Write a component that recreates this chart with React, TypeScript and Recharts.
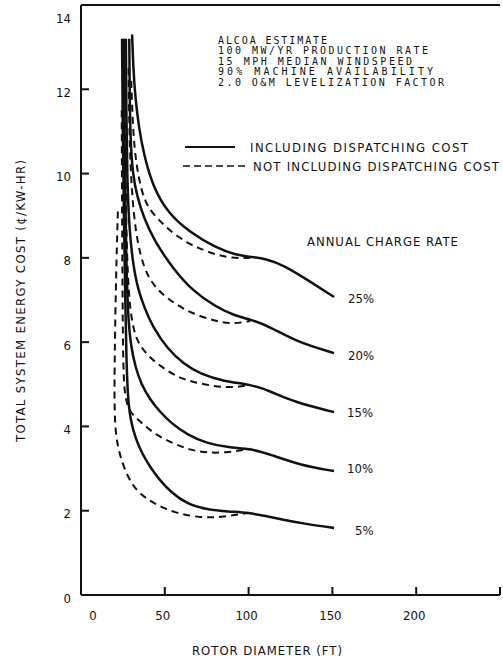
import React from 'react';
import { LineChart, Line, XAxis, YAxis, ReferenceLine } from 'recharts';

// ---- data (rotor diameter ft, cost ¢/kWh) ----
const X_TICKS = [0, 50, 100, 150, 200, 250];
const Y_TICKS = [0, 2, 4, 6, 8, 10, 12, 14];
const RATES = ['25%', '20%', '15%', '10%', '5%'];

// including dispatching cost (solid)
const incl25: [number, number][] = [[30.5, 13.3], [31.2, 12.5], [32.4, 11.8], [34.5, 11.1], [37.5, 10.45], [42.8, 9.7], [51.8, 9.06], [65.5, 8.59], [80, 8.25], [92, 8.07], [102, 8.02], [110, 7.98], [121, 7.83], [137, 7.43], [151, 7.07]];
const incl20: [number, number][] = [[28.8, 13.2], [29.0, 12.0], [29.5, 10.8], [30.8, 10.0], [33.5, 9.45], [37.5, 8.95], [43.5, 8.42], [55.3, 7.72], [67.2, 7.2], [80, 6.85], [92, 6.62], [102, 6.53], [113, 6.36], [129, 6.0], [151, 5.74]];
const incl15: [number, number][] = [[26.8, 13.2], [27.0, 11.5], [27.6, 9.8], [28.8, 8.7], [31, 7.85], [34, 7.25], [38, 6.8], [42.8, 6.36], [51.8, 5.83], [61.3, 5.48], [71.4, 5.24], [85, 5.07], [102, 4.99], [112, 4.85], [127, 4.58], [151, 4.34]];
const incl10: [number, number][] = [[25.5, 13.2], [25.8, 11.5], [26.3, 9.8], [27.0, 8.0], [28.0, 6.6], [29.8, 5.9], [32.5, 5.4], [36, 5.0], [41, 4.65], [47, 4.35], [54, 4.07], [63.5, 3.8], [75, 3.6], [88, 3.5], [102, 3.47], [113, 3.33], [131, 3.08], [151, 2.94]];
const incl05: [number, number][] = [[24.5, 13.2], [24.9, 11], [25.6, 9], [26.4, 7], [27.1, 5.6], [27.9, 4.7], [29.5, 4.15], [32.5, 3.72], [36.5, 3.35], [41.5, 3.02], [46.5, 2.75], [53.5, 2.44], [63.6, 2.15], [75, 2.03], [88, 1.98], [100, 1.95], [110, 1.88], [121, 1.78], [135, 1.68], [151, 1.59]];

// not including dispatching cost (dashed)
const excl25: [number, number][] = [[30.0, 12.2], [31.0, 11.0], [33.0, 10.2], [36, 9.6], [39.9, 9.18], [47.6, 8.85], [54.7, 8.59], [63.7, 8.35], [70.2, 8.23], [80, 8.08], [90, 7.99], [101, 8.0]];
const excl20: [number, number][] = [[28.4, 12.5], [28.7, 11.3], [29.6, 10.0], [31.5, 9.0], [34, 8.3], [37.5, 7.78], [42, 7.42], [47.6, 7.17], [55.3, 6.93], [65.5, 6.69], [80, 6.5], [90, 6.43], [101, 6.5]];
const excl15: [number, number][] = [[26.3, 11.8], [26.6, 9.8], [27.4, 8.0], [28.8, 6.95], [31, 6.35], [33.9, 5.98], [40.5, 5.65], [48.8, 5.39], [57.7, 5.17], [66.6, 5.05], [80, 4.95], [90, 4.92], [101, 4.98]];
const excl10: [number, number][] = [[24.3, 11.5], [24.5, 9.0], [24.8, 7.0], [25.1, 5.6], [25.8, 4.85], [27.5, 4.5], [30.5, 4.28], [36.9, 4.06], [44.6, 3.8], [54.7, 3.6], [64.3, 3.45], [75, 3.37], [88, 3.38], [101, 3.47]];
const excl05: [number, number][] = [[22, 9.1], [21.2, 8], [20.4, 6.5], [19.9, 5], [20.1, 4.1], [21.5, 3.6], [24.2, 3.18], [28.5, 2.75], [34, 2.43], [43.5, 2.17], [55.5, 1.95], [71.4, 1.83], [85, 1.85], [100, 1.95]];

const NOTES = ['ALCOA ESTIMATE', '100 MW/YR PRODUCTION RATE', '15 MPH MEDIAN WINDSPEED', '90% MACHINE AVAILABILITY', '2.0 O&M LEVELIZATION FACTOR'];
const LEGEND_SOLID = 'INCLUDING DISPATCHING COST';
const LEGEND_DASHED = 'NOT INCLUDING DISPATCHING COST';
const RATE_TITLE = 'ANNUAL CHARGE RATE';
const X_TITLE = 'ROTOR DIAMETER (FT)';
const Y_TITLE = 'TOTAL SYSTEM ENERGY COST (\u00A2/KW-HR)';

const toRows = (pts: [number, number][]) => pts.map(([x, y]) => ({ x, y }));
const solidSeries = [incl25, incl20, incl15, incl10, incl05].map(toRows);
const dashedSeries = [excl25, excl20, excl15, excl10, excl05].map(toRows);

const COND = "'DejaVu Sans Condensed', 'DejaVu Sans', sans-serif";
const MONO = "'DejaVu Sans Mono', monospace";
const INK = '#111';

const XTick = (props: any) => {
  const { x, y, payload } = props;
  if (payload.value === 250) return <g />;
  const dx = payload.value === 0 ? 12 : -2;
  return (
    <text x={x + dx} y={y} textAnchor="middle" dominantBaseline="central" fontFamily={COND} fontStretch="condensed" fontSize={13} fill={INK}>
      {payload.value}
    </text>
  );
};

const YTick = (props: any) => {
  const { x, y, payload } = props;
  const dy = payload.value === 14 ? 9 : 3;
  return (
    <text x={x} y={y + dy} textAnchor="end" dominantBaseline="central" fontFamily={COND} fontStretch="condensed" fontSize={13} fill={INK}>
      {payload.value}
    </text>
  );
};

const RATE_POS = [[348, 298], [348, 355], [347, 412], [347, 468], [355, 530]];
const NOTE_WIDTHS = [109, 210, 194, 215, 226];

export default function App() {
  return (
    <div style={{ position: 'absolute', left: 0, top: 0, width: 503, height: 659, background: '#fff' }}>
      <LineChart width={503} height={659} margin={{ top: 5, right: 3, left: 0, bottom: 0 }}>
        <XAxis
          type="number"
          dataKey="x"
          domain={[0, 250]}
          ticks={X_TICKS}
          allowDataOverflow
          height={64}
          tickSize={-8}
          tickMargin={28}
          tick={<XTick />}
          axisLine={{ stroke: INK, strokeWidth: 2 }}
          tickLine={{ stroke: INK, strokeWidth: 2 }}
          label={{
            content: () => (
              <text x={267} y={650} textAnchor="middle" dominantBaseline="central" fontFamily={COND} fontStretch="condensed" fontSize={13} fill={INK} textLength={150} lengthAdjust="spacing">
                {X_TITLE}
              </text>
            ),
          }}
        />
        <YAxis
          type="number"
          domain={[0, 14]}
          ticks={Y_TICKS}
          allowDataOverflow
          width={81}
          tickSize={-8}
          tickMargin={18}
          tick={<YTick />}
          axisLine={{ stroke: INK, strokeWidth: 2 }}
          tickLine={{ stroke: INK, strokeWidth: 2 }}
          label={{
            content: () => (
              <text x={20} y={301} transform="rotate(-90 20 301)" textAnchor="middle" dominantBaseline="central" fontFamily={COND} fontStretch="condensed" fontSize={13} fill={INK} textLength={282} lengthAdjust="spacing">
                {Y_TITLE}
              </text>
            ),
          }}
        />
        <ReferenceLine y={14} stroke={INK} strokeWidth={2} ifOverflow="visible" />
        {dashedSeries.map((d, i) => (
          <Line key={'d' + i} data={d} dataKey="y" type="basis" stroke={INK} strokeWidth={2} strokeDasharray="7 5" dot={false} activeDot={false} isAnimationActive={false} />
        ))}
        {solidSeries.map((d, i) => (
          <Line key={'s' + i} data={d} dataKey="y" type="basis" stroke={INK} strokeWidth={2.5} dot={false} activeDot={false} isAnimationActive={false} />
        ))}
      </LineChart>
      <svg width={503} height={659} style={{ position: 'absolute', left: 0, top: 0, pointerEvents: 'none' }}>
        {NOTES.map((t, i) => (
          <text key={t} x={218} y={40 + i * 10.6} dominantBaseline="central" fontFamily={MONO} fontSize={10} fill={INK} textLength={NOTE_WIDTHS[i]} lengthAdjust="spacing">
            {t}
          </text>
        ))}
        <line x1={185} x2={235} y1={147} y2={147} stroke={INK} strokeWidth={2} />
        <text x={250} y={147} dominantBaseline="central" fontFamily={COND} fontStretch="condensed" fontSize={13} fill={INK} textLength={218} lengthAdjust="spacing">
          {LEGEND_SOLID}
        </text>
        <line x1={183} x2={247} y1={166} y2={166} stroke={INK} strokeWidth={1.6} strokeDasharray="7 4" />
        <text x={253} y={166} dominantBaseline="central" fontFamily={COND} fontStretch="condensed" fontSize={13} fill={INK} textLength={246} lengthAdjust="spacing">
          {LEGEND_DASHED}
        </text>
        <text x={307} y={241} dominantBaseline="central" fontFamily={COND} fontStretch="condensed" fontSize={13} fill={INK} textLength={151} lengthAdjust="spacing">
          {RATE_TITLE}
        </text>
        {RATES.map((r, i) => (
          <text key={r} x={RATE_POS[i][0]} y={RATE_POS[i][1]} dominantBaseline="central" fontFamily={COND} fontStretch="condensed" fontSize={13} fill={INK}>
            {r}
          </text>
        ))}
      </svg>
    </div>
  );
}
